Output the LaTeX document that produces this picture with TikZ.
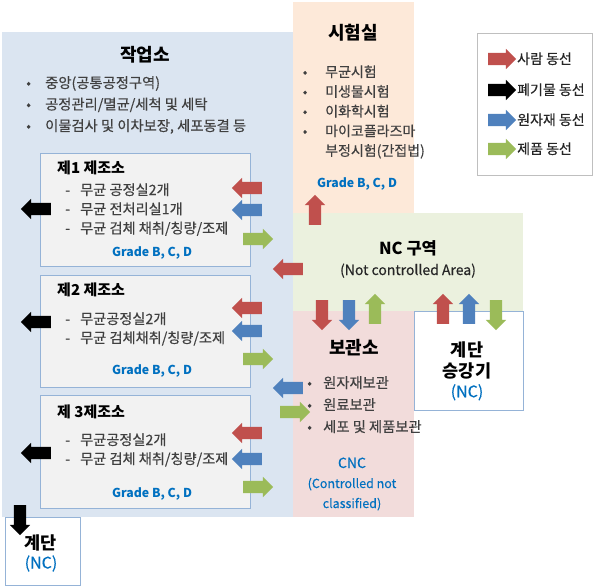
\documentclass[tikz,border=0pt]{standalone}
\usepackage{fontspec}
\setmainfont{Noto Sans CJK KR}
\newfontfamily\bodyfont{Noto Sans CJK KR}[FakeBold=0.35]
\usetikzlibrary{shapes.arrows}
\definecolor{workblue}{HTML}{DBE5F1}
\definecolor{testpeach}{HTML}{FDE9D9}
\definecolor{ncgreen}{HTML}{EBF1DE}
\definecolor{storepink}{HTML}{F2DCDB}
\definecolor{roomgray}{HTML}{F2F2F2}
\definecolor{roomedge}{HTML}{95B3D7}
\definecolor{legedge}{HTML}{BFBFBF}
\definecolor{gradeblue}{HTML}{0070C0}
\definecolor{txtgray}{HTML}{404040}
\definecolor{txtdark}{HTML}{262626}
\definecolor{arred}{HTML}{C0504D}
\definecolor{arblue}{HTML}{4F81BD}
\definecolor{argreen}{HTML}{9BBB59}
\definecolor{arblack}{HTML}{000000}
\newcommand\myitem[2][16pt]{\makebox[#1][l]{•}#2}
\newcommand\mydash[1]{\makebox[15pt][l]{-}#1}
\tikzset{
  region/.style={draw=none, inner sep=0pt, outer sep=0pt, anchor=north west},
  room/.style={region, draw=roomedge, fill=roomgray, line width=0.8pt},
  whitebox/.style={region, draw=roomedge, fill=white, line width=0.8pt},
  title/.style={font=\fontsize{18}{21}\selectfont\bfseries, text=black, inner sep=0pt, anchor=base},
  roomtitle/.style={font=\fontsize{15}{18}\selectfont\bfseries, text=black, inner sep=0pt, anchor=base west},
  body/.style={text=txtgray, inner sep=0pt, anchor=base west},
  grade/.style={font=\fontsize{12.3}{15}\selectfont\bfseries, text=gradeblue, inner sep=0pt, anchor=base},
  legtext/.style={font=\bodyfont\fontsize{14}{16}\selectfont, text=txtdark, inner sep=0pt, anchor=base west},
  blockarrow/.style={single arrow, draw=none, inner sep=0pt, minimum height=30pt, single arrow head extend=4pt, single arrow tip angle=90},
  toleft/.style={blockarrow, inner ysep=6pt, shape border rotate=180},
  toright/.style={blockarrow, inner ysep=6pt, shape border rotate=0},
  toup/.style={blockarrow, inner xsep=6pt, shape border rotate=90},
  todown/.style={blockarrow, inner xsep=6pt, shape border rotate=270},
}
\begin{document}
\begin{tikzpicture}[x=1pt, y=-1pt]
\useasboundingbox (0,0) rectangle (608,587);
% regions
\node[region, fill=workblue, minimum width=291pt, minimum height=485pt] (work) at (2,32) {};
\node[region, fill=testpeach, minimum width=121pt, minimum height=211pt] (test) at (293,2) {};
\node[region, fill=ncgreen, minimum width=230pt, minimum height=98pt] (nc) at (293,213) {};
\node[region, fill=storepink, minimum width=121pt, minimum height=206pt] (store) at (293,311) {};
\node[whitebox, minimum width=109pt, minimum height=99pt] (lift) at (414,311) {};
\node[whitebox, minimum width=75pt, minimum height=68pt] (stairs) at (5,517) {};
\node[region, draw=legedge, fill=white, line width=0.8pt, minimum width=115pt, minimum height=142pt] (legend) at (477,33) {};
\node[room, minimum width=210pt, minimum height=113pt] (room1) at (40,153) {};
\node[room, minimum width=210pt, minimum height=112pt] (room2) at (40,275) {};
\node[room, minimum width=210pt, minimum height=113pt] (room3) at (40,395) {};
% work area text
\node[title] (workt) at (145,61.5) {작업소};
\node[body, font=\bodyfont\fontsize{14.3}{21.5}\selectfont] (workl) at (26,88) {\begin{tabular}[t]{@{}l@{}}
\myitem[19pt]{중앙(공통공정구역)}\\
\myitem[19pt]{공정관리/멸균/세척 및 세탁}\\
\myitem[19pt]{이물검사 및 이차보장, 세포동결 등}
\end{tabular}};
% test room text
\node[title] (testt) at (353,39.5) {시험실};
\node[body, font=\bodyfont\fontsize{14}{19.7}\selectfont] (testl) at (302.5,77) {\begin{tabular}[t]{@{}l@{}}
\myitem[22.5pt]{무균시험}\\
\myitem[22.5pt]{미생물시험}\\
\myitem[22.5pt]{이화학시험}\\
\myitem[22.5pt]{마이코플라즈마}\\
\hspace*{22.5pt}부정시험(간접법)
\end{tabular}};
\node[grade] (testg) at (357,187.5) {Grade B, C, D};
% rooms
\node[roomtitle] (r1t) at (57,173.5) {제1 제조소};
\node[body, font=\bodyfont\fontsize{14.2}{19.2}\selectfont] (r1l) at (65,195) {\begin{tabular}[t]{@{}l@{}}
\mydash{무균 공정실2개}\\
\mydash{무균 전처리실1개}\\
\mydash{무균 검체 채취/칭량/조제}
\end{tabular}};
\node[grade] (r1g) at (152,256.5) {Grade B, C, D};
\node[roomtitle] (r2t) at (57,295.5) {제2 제조소};
\node[body, font=\bodyfont\fontsize{14.2}{19}\selectfont] (r2l) at (65,324) {\begin{tabular}[t]{@{}l@{}}
\mydash{무균공정실2개}\\
\mydash{무균 검체채취/칭량/조제}
\end{tabular}};
\node[grade] (r2g) at (152,374.5) {Grade B, C, D};
\node[roomtitle] (r3t) at (57,417.5) {제 3제조소};
\node[body, font=\bodyfont\fontsize{14.2}{19}\selectfont] (r3l) at (65,445) {\begin{tabular}[t]{@{}l@{}}
\mydash{무균공정실2개}\\
\mydash{무균 검체 채취/칭량/조제}
\end{tabular}};
\node[grade] (r3g) at (152,497.5) {Grade B, C, D};
% NC zone
\node[title, font=\fontsize{16.5}{20}\selectfont\bfseries] (nct) at (408,254) {NC 구역};
\node[inner sep=0pt, anchor=base, text=txtdark, font=\bodyfont\fontsize{14}{16}\selectfont] (ncs) at (408,275) {(Not controlled Area)};
% storage
\node[title] (storet) at (354,354.5) {보관소};
\node[body, font=\bodyfont\fontsize{14.3}{22}\selectfont] (storel) at (307,388) {\begin{tabular}[t]{@{}l@{}}
\myitem{원자재보관}\\
\myitem{원료보관}\\
\myitem{세포 및 제품보관}
\end{tabular}};
\node[inner sep=0pt, anchor=base, text=gradeblue, font=\bodyfont\fontsize{12.5}{20}\selectfont] (cnc) at (352,468) {\begin{tabular}[t]{@{}c@{}}
{\fontsize{14}{20}\selectfont CNC}\\
(Controlled not\\
classified)
\end{tabular}};
% lift
\node[inner sep=0pt, anchor=base, font=\fontsize{17.5}{20}\selectfont\bfseries] (liftt) at (467,356.5) {\begin{tabular}[t]{@{}c@{}}
계단\\
승강기\\
{\color{gradeblue}\bodyfont\mdseries\fontsize{16}{20}\selectfont (NC)}
\end{tabular}};
% stairs
\node[inner sep=0pt, anchor=base, font=\fontsize{17.5}{19}\selectfont\bfseries] (stairst) at (41,549.5) {\begin{tabular}[t]{@{}c@{}}
계단\\
{\color{gradeblue}\bodyfont\mdseries\fontsize{16}{19}\selectfont (NC)}
\end{tabular}};
% legend
\node[toright, fill=arred, minimum height=28pt] (la1) at (499,59) {};
\node[toright, fill=arblack, minimum height=28pt] (la2) at (499,90) {};
\node[toright, fill=arblue, minimum height=28pt] (la3) at (499,120) {};
\node[toright, fill=argreen, minimum height=28pt] (la4) at (499,149) {};
\node[legtext] (lt1) at (517,64) {사람 동선};
\node[legtext] (lt2) at (517,95) {폐기물 동선};
\node[legtext] (lt3) at (517,125) {원자재 동선};
\node[legtext] (lt4) at (517,154) {제품 동선};
% room arrows
\node[toleft, fill=arred] (r1a) at (250,188) {};
\node[toleft, fill=arblue] (r1b) at (250,210) {};
\node[toright, fill=argreen] (r1c) at (255,239) {};
\node[toleft, fill=arblack] (r1w) at (39,209) {};
\node[toleft, fill=arred] (r2a) at (250,308) {};
\node[toleft, fill=arblue] (r2b) at (250,331) {};
\node[toright, fill=argreen] (r2c) at (255,359) {};
\node[toleft, fill=arblack] (r2w) at (39,322) {};
\node[toleft, fill=arred] (r3a) at (250,433) {};
\node[toleft, fill=arblue] (r3b) at (250,459) {};
\node[toright, fill=argreen] (r3c) at (255,487) {};
\node[toleft, fill=arblack] (r3w) at (39,453) {};
% zone arrows
\node[toleft, fill=arred] (ncw) at (291,269) {};
\node[toleft, fill=arblue] (stw) at (291,388) {};
\node[toright, fill=argreen] (wst) at (292,412) {};
\node[toup, fill=arred] (nct2) at (315,213) {};
\node[todown, fill=arred] (ns1) at (322,312) {};
\node[todown, fill=arblue] (ns2) at (349,312) {};
\node[toup, fill=argreen] (ns3) at (375,312) {};
\node[toup, fill=arred] (nl1) at (443,312) {};
\node[toup, fill=arblue] (nl2) at (469,312) {};
\node[todown, fill=argreen] (nl3) at (496,312) {};
\node[todown, fill=arblack] (wstair) at (20,517) {};
\end{tikzpicture}
\end{document}
